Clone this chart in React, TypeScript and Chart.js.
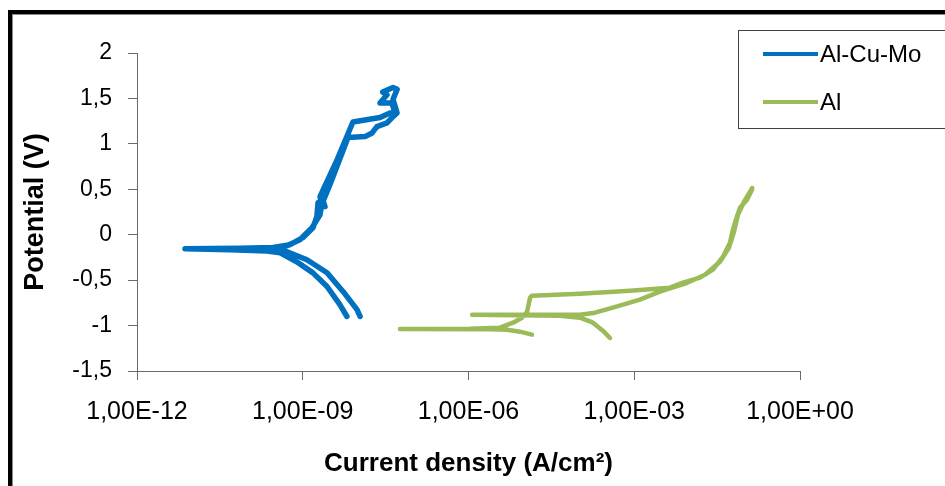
import React, { useEffect, useRef } from "react";
import { Chart, registerables } from "chart.js";

Chart.register(...registerables);

const xTickValues = [1e-12, 1e-9, 1e-6, 1e-3, 1];
const xTickLabels = ["1,00E-12", "1,00E-09", "1,00E-06", "1,00E-03", "1,00E+00"];
const yTickLabels = ["-1,5", "-1", "-0,5", "0", "0,5", "1", "1,5", "2"];

const seriesNames = ["Al-Cu-Mo", "Al"];
const seriesColors = ["#0070C0", "#9BBB59"];

const alCuMoCurrent = [
  6.3e-9, 4.7e-9, 2.75e-9, 1.53e-9, 7.9e-10, 3.9e-10, 2.25e-10, 4.8e-11, 7.4e-12, 7.3e-11,
  2.9e-10, 5.9e-10, 1.0e-9, 1.53e-9, 1.8e-9, 1.89e-9, 2.3e-9, 2.53e-9, 2.05e-9, 4.2e-9,
  8.1e-9, 2.5e-8, 3.8e-8, 4.7e-8, 4.1e-8, 2.5e-8, 3.35e-8, 2.8e-8, 4.3e-8, 5.1e-8,
  4.3e-8, 5.1e-8, 4.3e-8, 3.35e-8, 2.2e-8, 1.8e-8, 1.34e-8, 6.6e-9, 3.1e-9, 2.2e-9,
  2.05e-9, 1.47e-9, 8.9e-10, 4.8e-10, 2.55e-10, 5.2e-10, 1.19e-9, 2.75e-9, 5.4e-9, 9.6e-9,
  1.09e-8,
];
const alCuMoPotential = [
  -0.9, -0.77, -0.57, -0.42, -0.3, -0.2, -0.18, -0.165, -0.155, -0.15,
  -0.14, -0.11, -0.033, 0.077, 0.198, 0.353, 0.386, 0.31, 0.418, 0.826,
  1.24, 1.29, 1.34, 1.34, 1.45, 1.45, 1.54, 1.57, 1.62, 1.6,
  1.49, 1.34, 1.3, 1.23, 1.19, 1.12, 1.08, 1.07, 0.55, 0.33,
  0.22, 0.077, -0.055, -0.13, -0.154, -0.187, -0.275, -0.418, -0.627, -0.825,
  -0.9,
];

const alCurrent = [
  1.41e-5, 8.55e-6, 4.98e-6, 2.45e-6, 5.75e-8, 1.06e-6, 3.7e-6, 6.4e-6, 9.3e-6, 1.15e-5,
  1.3e-5, 1.41e-5, 1.04e-4, 8.4e-4, 4.4e-3, 7.6e-3, 1.55e-2, 2.66e-2, 4.04e-2, 5.4e-2,
  6.1e-2, 7.2e-2, 8.2e-2, 0.11, 0.135, 0.137, 0.097, 0.0755, 0.0638, 0.0519,
  0.0356, 0.0191, 8.3e-3, 2.9e-3, 1.27e-3, 4.1e-4, 1.95e-4, 1.04e-4, 1.16e-6, 4.5e-5,
  1.04e-4, 1.79e-4, 2.7e-4, 3.64e-4,
];
const alPotential = [
  -1.1, -1.067, -1.045, -1.04, -1.038, -1.034, -1.023, -0.968, -0.913, -0.847,
  -0.693, -0.671, -0.649, -0.616, -0.583, -0.528, -0.473, -0.385, -0.242, -0.088,
  0.055, 0.198, 0.297, 0.385, 0.495, 0.514, 0.363, 0.22, 0.033, -0.143,
  -0.297, -0.44, -0.539, -0.627, -0.715, -0.803, -0.858, -0.88, -0.88, -0.891,
  -0.913, -0.968, -1.056, -1.137,
];

const FONT = '"Liberation Sans", Arial, sans-serif';

const framePlugin = {
  id: "frame",
  beforeDraw(chart: any) {
    const ctx = chart.ctx;
    ctx.save();
    ctx.fillStyle = "#ffffff";
    ctx.fillRect(0, 0, chart.width, chart.height);
    ctx.fillStyle = "#000000";
    ctx.fillRect(8, 10, chart.width - 8, 4);
    ctx.fillRect(8, 10, 4, chart.height - 10);
    ctx.fillStyle = "#8a8a8a";
    ctx.fillRect(12, 14, chart.width - 12, 1);
    ctx.fillRect(12, 14, 1, chart.height - 14);
    ctx.restore();
  },
};

const legendPlugin = {
  id: "boxLegend",
  afterDraw(chart: any) {
    const ctx = chart.ctx;
    ctx.save();
    ctx.strokeStyle = "#404040";
    ctx.lineWidth = 1;
    ctx.strokeRect(738.5, 30.5, 260, 98);
    const rows = [54, 102];
    chart.data.datasets.forEach((ds: any, i: number) => {
      const y = rows[i];
      ctx.strokeStyle = ds.borderColor;
      ctx.lineWidth = 4;
      ctx.lineCap = "butt";
      ctx.beginPath();
      ctx.moveTo(763, y);
      ctx.lineTo(818, y);
      ctx.stroke();
      ctx.fillStyle = "#000000";
      ctx.font = `24px ${FONT}`;
      ctx.textBaseline = "middle";
      ctx.textAlign = "left";
      ctx.fillText(ds.label, 820, y + 1);
    });
    ctx.restore();
  },
};

export default function App() {
  const canvasRef = useRef<HTMLCanvasElement | null>(null);

  useEffect(() => {
    if (!canvasRef.current) return;
    const toPoints = (xs: number[], ys: number[]) => xs.map((x, i) => ({ x, y: ys[i] }));
    const chart = new Chart(canvasRef.current, {
      type: "scatter",
      data: {
        datasets: [
          {
            label: seriesNames[0],
            data: toPoints(alCuMoCurrent, alCuMoPotential),
            showLine: true,
            borderColor: seriesColors[0],
            backgroundColor: seriesColors[0],
            borderWidth: 5.5,
            pointRadius: 0,
            borderCapStyle: "round",
            borderJoinStyle: "round",
            tension: 0,
          },
          {
            label: seriesNames[1],
            data: toPoints(alCurrent, alPotential),
            showLine: true,
            borderColor: seriesColors[1],
            backgroundColor: seriesColors[1],
            borderWidth: 4.5,
            pointRadius: 0,
            borderCapStyle: "round",
            borderJoinStyle: "round",
            tension: 0,
          },
        ],
      },
      options: {
        responsive: false,
        animation: false,
        devicePixelRatio: 1,
        layout: { padding: { left: 0, top: 53, right: 145, bottom: 0 } },
        plugins: {
          legend: { display: false },
          tooltip: { enabled: false },
        },
        scales: {
          x: {
            type: "logarithmic",
            min: 1e-12,
            max: 1,
            afterBuildTicks: (scale: any) => {
              scale.ticks = xTickValues.map((v) => ({ value: v }));
            },
            afterFit: (scale: any) => {
              scale.height = 115;
            },
            ticks: {
              autoSkip: false,
              maxRotation: 0,
              padding: 17,
              color: "#000000",
              font: { family: FONT, size: 25 },
              callback: (_v: any, i: number) => xTickLabels[i],
            },
            grid: {
              drawOnChartArea: false,
              drawTicks: true,
              tickLength: 9,
              tickColor: "#6a6a6a",
              tickWidth: 1,
            },
            border: { display: true, color: "#6a6a6a", width: 1 },
            title: {
              display: true,
              text: "Current density (A/cm²)",
              color: "#000000",
              font: { family: FONT, size: 26, weight: "bold" },
              padding: { top: 0, bottom: 7 },
            },
          },
          y: {
            type: "linear",
            min: -1.5,
            max: 2,
            afterBuildTicks: (scale: any) => {
              scale.ticks = yTickLabels.map((_, i) => ({ value: -1.5 + i * 0.5 }));
            },
            afterFit: (scale: any) => {
              scale.width = 137;
            },
            ticks: {
              padding: 16,
              color: "#000000",
              font: { family: FONT, size: 23 },
              callback: (_v: any, i: number) => yTickLabels[i],
            },
            grid: {
              drawOnChartArea: false,
              drawTicks: true,
              tickLength: 9,
              tickColor: "#6a6a6a",
              tickWidth: 1,
            },
            border: { display: true, color: "#6a6a6a", width: 1 },
            title: {
              display: true,
              text: "Potential (V)",
              color: "#000000",
              font: { family: FONT, size: 27, weight: "bold" },
              padding: { top: 19, bottom: 0 },
            },
          },
        },
      },
      plugins: [framePlugin, legendPlugin],
    } as any);
    return () => chart.destroy();
  }, []);

  return (
    <div style={{ position: "fixed", left: 0, top: 0, width: 945, height: 486, background: "#fff" }}>
      <canvas ref={canvasRef} width={945} height={486} style={{ display: "block", width: 945, height: 486 }} />
    </div>
  );
}
